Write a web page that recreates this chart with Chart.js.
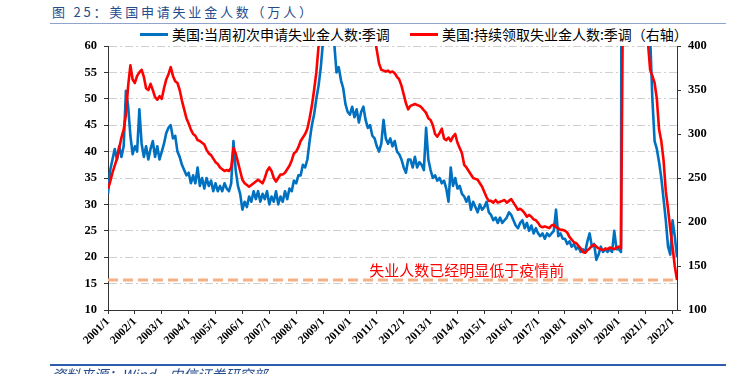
<!DOCTYPE html>
<html>
<head>
<meta charset="utf-8">
<script src="https://cdn.jsdelivr.net/npm/chart.js@4.4.0/dist/chart.umd.min.js"></script>
<style>
  body { margin: 0; background: #fff; }
  #wrap { position: relative; width: 738px; height: 374px; overflow: hidden; font-family: "Noto Sans CJK SC", sans-serif; }
  #chart { position: absolute; left: 0; top: 0; }
  .title { position: absolute; left: 52px; top: 3px; font-size: 13px; line-height: 18px; letter-spacing: 2.8px; color: #274c8c; white-space: nowrap; }
  .rule { position: absolute; left: 50px; width: 676px; }
  .legend { position: absolute; top: 24px; font-size: 14px; line-height: 20px; color: #000; white-space: nowrap; }
  .swatch { position: absolute; top: 33px; width: 28px; height: 3px; }
  .source { position: absolute; left: 52px; top: 365px; font-size: 14px; line-height: 18px; font-style: italic; color: #274c8c; white-space: nowrap; }
</style>
</head>
<body>
<div id="wrap">
  <div class="title">图 25：美国申请失业金人数（万人）</div>
  <div class="rule" style="top:23px;height:1px;background:#8fa3cc;"></div>
  <div class="swatch" style="left:140px;background:#0070c0;"></div>
  <div class="legend" style="left:172px;">美国:当周初次申请失业金人数:季调</div>
  <div class="swatch" style="left:410px;background:#ff0000;"></div>
  <div class="legend" style="left:442px;">美国:持续领取失业金人数:季调（右轴）</div>
  <canvas id="chart" width="738" height="374"></canvas>
  <div class="rule" style="top:364px;height:1.5px;background:#2e5daf;"></div>
  <div class="source">资料来源：Wind，中信证券研究部</div>
</div>
<script>
// monthly readings, 2001/1 .. 2022/3, unit: 万人
const startYear = 2001;

const initialClaims = [
  32, 36.5, 38.5, 40.5, 38.5, 41, 39, 41, 51.5, 48.5, 43, 39.5,
  41, 40, 48, 41.5, 39, 41, 38.5, 40.5, 42, 39, 41, 38.5,
  40, 41.5, 43.5, 44.5, 45, 42.5, 43, 40, 39, 37.5, 36.5, 35.5,
  36, 34, 35.5, 34, 37, 33.5, 35, 33, 35, 33.5, 34.5, 32.5,
  34, 32.5, 33.5, 32.5, 34, 33, 32.5, 34, 42, 36.5, 33.5, 32,
  29, 30.5, 29.5, 31.5, 30.5, 32.5, 31, 32.5, 30.5, 32, 31, 32.5,
  30, 31.5, 30.5, 32.5, 30, 31.5, 30.5, 32.5, 31, 33, 32.5, 34.5,
  34, 35.5, 35.5, 37.5, 37, 38.5, 42, 45, 47, 50, 52.5, 56,
  61, 63, 65, 64, 62, 60.5, 55, 56, 53.5, 52, 49, 47.5,
  47, 48.5, 46.5, 48, 45.5, 47.5, 48.5, 46, 44.5, 45, 43, 42.5,
  41, 40, 41.5, 46, 42.5, 41.5, 42.5, 41, 42, 40, 39.5, 38.5,
  37, 36, 38.5, 38.5, 37, 39, 37, 38, 37.5, 36.5, 44.5, 38.5,
  36.5, 35, 35.5, 34.5, 35, 34, 34.5, 33, 30.5, 37, 33.5, 35,
  33, 33.5, 32, 31.5, 30.5, 31.5, 29, 30.5, 29.5, 28.5, 30, 29,
  29.5, 30.5, 28.5, 28, 27, 27.5, 26.5, 27.5, 26.5, 27, 27.5, 28.5,
  28, 27, 26, 25.5, 26.5, 27, 25.5, 26.5, 25, 26, 24.5, 25.5,
  24.5, 24, 24.5, 23.5, 24.5, 24, 24.5, 25, 29, 24, 24.5, 23.5,
  23.5, 22.5, 23, 22, 22.5, 21.5, 22, 21, 21.5, 21, 23, 24.5,
  22, 22.5, 19.5, 20.5, 22, 21, 21.5, 21, 21.5, 21, 25, 21.5,
  21.5, 21, 300, 450, 250, 150, 140, 110, 85, 80, 75, 85,
  85, 78, 62, 50, 42, 40.5, 38, 35, 31, 27, 22, 20.5,
  27, 24, 20
];

const continuingClaims = [
  238, 246, 256, 264, 272, 284, 296, 305, 322, 355, 378, 362,
  358, 366, 370, 373, 365, 352, 350, 357, 350, 342, 339, 343,
  340, 352, 362, 368, 376, 366, 360, 358, 350, 338, 328, 318,
  312, 305, 300, 298, 293, 292, 290, 288, 282, 278, 276, 272,
  268, 266, 262, 260, 258, 259, 258, 262, 284, 278, 268, 258,
  248, 244, 242, 240, 242, 244, 246, 248, 246, 244, 250, 258,
  262, 258, 250, 246, 250, 254, 254, 256, 260, 264, 270, 278,
  280, 285, 292, 296, 300, 306, 318, 332, 350, 370, 400, 440,
  470, 510, 560, 610, 650, 670, 640, 620, 590, 560, 540, 510,
  480, 470, 465, 460, 460, 455, 450, 450, 445, 435, 425, 410,
  395, 380, 373, 372, 371, 372, 370, 371, 369, 365, 362, 355,
  345, 335, 328, 332, 333, 334, 333, 332, 330, 327, 324, 318,
  316, 310, 300, 297, 301, 306, 295, 293, 296, 292, 297, 300,
  290, 284, 278, 265, 262, 258, 254, 250, 249, 248, 244, 240,
  234, 228, 224, 224, 222, 225, 222, 223, 224, 225, 222, 224,
  226, 222, 218, 214, 215, 213, 210, 206, 208, 206, 203, 202,
  199, 195, 194, 195, 194, 193, 196, 197, 194, 193, 191, 191,
  190, 188, 183, 180, 177, 176, 173, 170, 166, 165, 168, 170,
  173, 174, 172, 170, 169, 168, 170, 169, 171, 170, 169, 171,
  172, 170, 500, 1800, 2200, 1800, 1600, 1400, 1200, 900, 600, 520,
  500, 405, 373, 366, 358, 340, 305, 292, 270, 235, 215, 192,
  172, 150, 134
];

const yearLabels = [
  '2001/1', '2002/1', '2003/1', '2004/1', '2005/1', '2006/1', '2007/1', '2008/1',
  '2009/1', '2010/1', '2011/1', '2012/1', '2013/1', '2014/1', '2015/1', '2016/1',
  '2017/1', '2018/1', '2019/1', '2020/1', '2021/1', '2022/1'
];

// pre-pandemic reference level, on the left axis
const baselineLevel = 15.7;
const noteText = '失业人数已经明显低于疫情前';
const notePos = {x: 2014.35, y: 17.6};

const lastX = startYear + (initialClaims.length - 1) / 12;
const toPoints = (arr) => arr.map((v, i) => ({x: startYear + i / 12, y: v}));

const notePlugin = {
    id: 'note',
    afterDatasetsDraw(chart) {
        const {ctx, scales} = chart;
        ctx.save();
        ctx.font = '15px "Noto Sans CJK SC"';
        ctx.fillStyle = '#ff0000';
        ctx.textAlign = 'center';
        ctx.textBaseline = 'middle';
        ctx.fillText(noteText, scales.x.getPixelForValue(notePos.x), scales.y.getPixelForValue(notePos.y));
        ctx.restore();
    }
};

const tickFont = {family: 'Liberation Serif', weight: 'bold', size: 12.5};

new Chart(document.getElementById('chart'), {
    type: 'line',
    data: {
        datasets: [
            {
                label: '美国:当周初次申请失业金人数:季调',
                data: toPoints(initialClaims),
                borderColor: '#0070c0',
                borderWidth: 2.6,
                yAxisID: 'y',
                order: 3
            },
            {
                label: '美国:持续领取失业金人数:季调（右轴）',
                data: toPoints(continuingClaims),
                borderColor: '#ff0000',
                borderWidth: 2.6,
                yAxisID: 'y1',
                order: 1
            },
            {
                label: 'baseline',
                data: [{x: startYear, y: baselineLevel}, {x: lastX, y: baselineLevel}],
                borderColor: '#f4b183',
                borderWidth: 3,
                borderDash: [10, 5],
                yAxisID: 'y',
                order: 2
            }
        ]
    },
    options: {
        responsive: false,
        animation: false,
        events: [],
        clip: 0,
        elements: {
            point: {radius: 0},
            line: {tension: 0, borderJoinStyle: 'round'}
        },
        layout: {padding: {top: 46, left: 0, right: 0, bottom: 0}},
        plugins: {
            legend: {display: false},
            tooltip: {enabled: false}
        },
        scales: {
            x: {
                type: 'linear',
                min: startYear,
                max: lastX,
                afterFit: (s) => { s.height = 64; },
                grid: {drawOnChartArea: false, tickLength: 4, tickColor: '#333'},
                border: {color: '#333'},
                ticks: {
                    stepSize: 1,
                    autoSkip: false,
                    maxTicksLimit: 30,
                    includeBounds: false,
                    minRotation: 45,
                    maxRotation: 45,
                    padding: 1,
                    color: '#000',
                    font: {family: 'Liberation Serif', weight: 'bold', size: 11.5},
                    callback: (v) => yearLabels[v - startYear]
                }
            },
            y: {
                position: 'left',
                min: 10,
                max: 60,
                afterFit: (s) => { s.width = 108; },
                grid: {color: '#d0d0d0', tickLength: 4, tickColor: '#333', tickBorderDash: []},
                border: {color: '#333', dash: [8, 3, 2, 3]},
                ticks: {stepSize: 5, padding: 7, color: '#000', font: tickFont}
            },
            y1: {
                position: 'right',
                min: 100,
                max: 400,
                afterFit: (s) => { s.width = 61; },
                grid: {drawOnChartArea: false, tickLength: 4, tickColor: '#333'},
                border: {color: '#333'},
                ticks: {stepSize: 50, padding: 7, color: '#000', font: tickFont}
            }
        }
    },
    plugins: [notePlugin]
});
</script>
</body>
</html>
